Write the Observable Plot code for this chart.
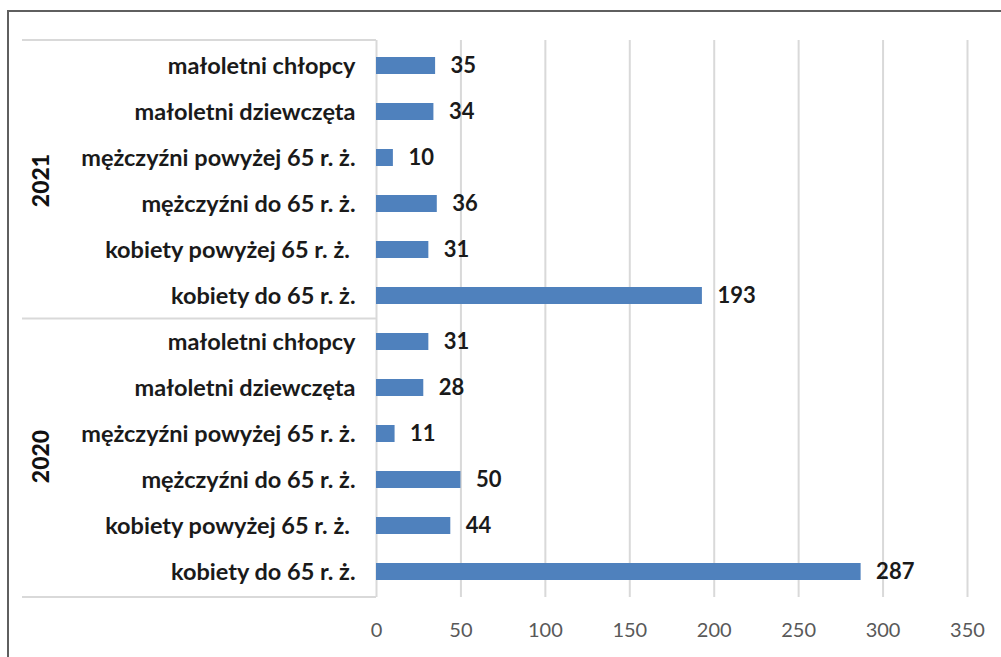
<!DOCTYPE html>
<html>
<head>
<meta charset="utf-8">
<script src="https://cdn.jsdelivr.net/npm/d3@7"></script>
<script src="https://cdn.jsdelivr.net/npm/@observablehq/plot@0.6"></script>
<style>
  html, body { margin: 0; padding: 0; background: #fff; overflow: hidden; width: 1001px; height: 657px; }
  #frame { position: absolute; left: 7px; top: 10px; width: 1100px; height: 800px; border: 2px solid #5f5f5f; box-sizing: border-box; }
  #chart { position: absolute; left: 0; top: 0; }
</style>
</head>
<body>
<div id="frame"></div>
<div id="chart"></div>
<script>
const years = ["2021", "2020"];
const categories = [
  "małoletni chłopcy",
  "małoletni dziewczęta",
  "mężczyźni powyżej 65 r. ż.",
  "mężczyźni do 65 r. ż.",
  "kobiety powyżej 65 r. ż.\u00a0",
  "kobiety do 65 r. ż."
];
const values2021 = [35, 34, 10, 36, 31, 193];
const values2020 = [31, 28, 11, 50, 44, 287];
const xTicks = [0, 50, 100, 150, 200, 250, 300, 350];

const seriesByYear = { "2021": values2021, "2020": values2020 };
const data = years.flatMap(yr => categories.map((c, i) => ({ year: yr, category: c, key: yr + "|" + c, value: seriesByYear[yr][i] })));
const keys = data.map(d => d.key);

const gridColor = "#d9d9d9";

function groupDecor(index, scales, values, dimensions) {
  const { marginTop, marginBottom, marginLeft, height } = dimensions;
  const n = keys.length;
  const step = (height - marginTop - marginBottom) / n;
  const g = d3.create("svg:g");
  const per = categories.length;
  for (let gi = 0; gi <= years.length; gi++) {
    const yy = marginTop + gi * per * step;
    g.append("line")
      .attr("x1", 22).attr("x2", marginLeft)
      .attr("y1", yy).attr("y2", yy)
      .attr("stroke", gridColor).attr("stroke-width", 2);
  }
  years.forEach((yr, gi) => {
    const first = scales.y(yr + "|" + categories[0]);
    const last = scales.y(yr + "|" + categories[per - 1]);
    const bw = scales.y.bandwidth ? scales.y.bandwidth() : 0;
    const cy = (first + last + bw) / 2;
    g.append("text")
      .attr("transform", `translate(40,${cy}) rotate(-90)`)
      .attr("text-anchor", "middle")
      .attr("dominant-baseline", "central")
      .style("font-weight", "900")
      .style("font-size", "23px")
      .attr("fill", "#111")
      .text(yr);
  });
  return g.node();
}

const chart = Plot.plot({
  width: 1001,
  height: 657,
  marginTop: 40,
  marginBottom: 60,
  marginLeft: 376,
  marginRight: 34,
  style: { fontFamily: "Lato, 'Open Sans', sans-serif", fontSize: "22px", background: "transparent", color: "#1a1a1a" },
  x: { domain: [0, 350] },
  y: { domain: keys, paddingInner: 0.63, paddingOuter: 0.315, align: 0.5, label: null },
  marks: [
    Plot.gridX(xTicks, { stroke: gridColor, strokeOpacity: 1, strokeWidth: 2 }),
    Plot.axisX(xTicks, { tickSize: 0, tickPadding: 25, fill: "#595959", label: null, fontSize: 20 }),
    Plot.axisY({ tickSize: 0, tickPadding: 21, tickFormat: k => k.split("|")[1], fill: "#1a1a1a", fontWeight: "bold", fontSize: 23.5, label: null }),
    Plot.barX(data, { x: "value", y: "key", fill: "#4f81bd" }),
    Plot.text(data, { x: "value", y: "key", text: d => String(d.value), textAnchor: "start", dx: 15, fontWeight: "bold", fontSize: 22, fill: "#1a1a1a" }),
    groupDecor
  ]
});
document.getElementById("chart").appendChild(chart);
</script>
</body>
</html>
